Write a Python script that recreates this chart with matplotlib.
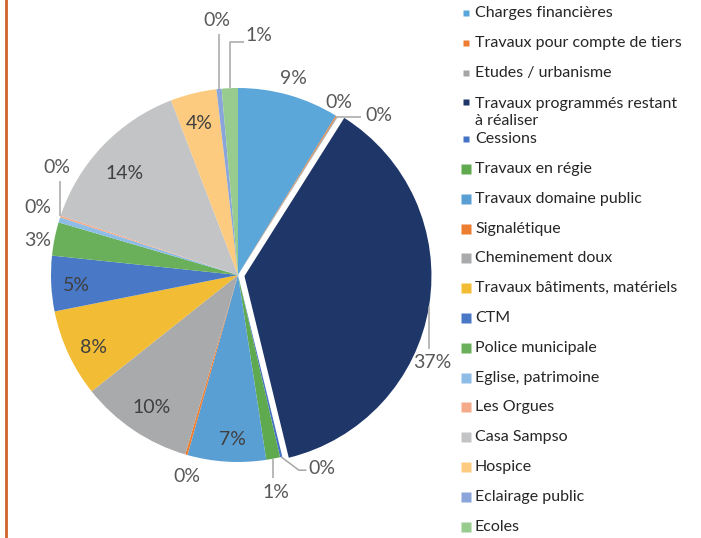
import matplotlib

matplotlib.use("Agg")

import numpy as np
import matplotlib.pyplot as plt
from matplotlib.lines import Line2D

plt.rcParams["font.family"] = ["Lato", "DejaVu Sans"]

categories = [
    "Charges financières",
    "Travaux pour compte de tiers",
    "Etudes / urbanisme",
    "Travaux programmés restant\nà réaliser",
    "Cessions",
    "Travaux en régie",
    "Travaux domaine public",
    "Signalétique",
    "Cheminement doux",
    "Travaux bâtiments, matériels",
    "CTM",
    "Police municipale",
    "Eglise, patrimoine",
    "Les Orgues",
    "Casa Sampso",
    "Hospice",
    "Eclairage public",
    "Ecoles",
]
values = [8.8, 0.1, 0.1, 37.4, 0.2, 1.2, 6.8, 0.2, 9.8, 7.6, 4.8, 2.9,
          0.45, 0.15, 14.1, 4.0, 0.45, 1.4]
colors = [
    "#5BA7DA", "#ED7D31", "#A5A5A5", "#1F3768", "#4472C4", "#5FA94F",
    "#5A9FD3", "#ED7D31", "#A9AAAB", "#F2BC35", "#4878C6", "#6AB05A",
    "#8DBDE6", "#F4A988", "#C3C4C5", "#FDCB7F", "#8AA5DA", "#98CB8E",
]

# label layout per slice: distance from centre, clockwise nudge (deg), leader style
label_dist = [1.09, 1.07, 1.14, 1.14, 1.125, 1.18, 0.88, 1.11, 0.845, 0.865,
              0.868, 1.09, 1.13, 1.126, 0.814, 0.838, 1.368, 1.288]
label_nudge = [0, -1.4, 9.4, 15, -10, 1, -1.5, -1.7, -1, -1.6,
               -0.9, -1.3, 1.6, 12.6, -1.9, -0.5, 1.1, 7.6]
leaders = [None, None, "h", "v", "dh", "v", None, None, None, None,
           None, None, None, "v", None, None, "v", "vh"]
small_marker = [True] * 5 + [False] * 13

W, H = 701, 538
cx, cy, rpx = 238, 275, 187
lim = 1.45

fig = plt.figure(figsize=(W / 100, H / 100), dpi=100)
fig.patch.set_facecolor("white")
half = lim * rpx
ax = fig.add_axes([(cx - half) / W, (H - cy - half) / H, 2 * half / W, 2 * half / H])

explode = [0.035 if i == 3 else 0 for i in range(len(values))]
wedges, _ = ax.pie(
    values,
    colors=colors,
    startangle=90,
    counterclock=False,
    explode=explode,
    wedgeprops={"linewidth": 0},
)
ax.set_xlim(-lim, lim)
ax.set_ylim(-lim, lim)
ax.axis("off")

total = sum(values)
line_color = "#A6A6A6"
for i, w in enumerate(wedges):
    mid = np.deg2rad((w.theta1 + w.theta2) / 2)
    px = w.center[0] + w.r * np.cos(mid)
    py = w.center[1] + w.r * np.sin(mid)
    ang = mid - np.deg2rad(label_nudge[i])
    tx = label_dist[i] * np.cos(ang)
    ty = label_dist[i] * np.sin(ang)
    inside = label_dist[i] < 1
    ax.text(tx, ty, f"{values[i] / total * 100:.0f}%", ha="center", va="center",
            fontsize=14, color="#404040" if inside else "#595959")

    style = leaders[i]
    if style == "v":
        sgn = 1 if py > ty else -1
        xs, ys = [px, px], [py, ty + sgn * 0.075]
    elif style == "h":
        xs, ys = [px, tx - 0.095], [py, py]
    elif style == "vh":
        xs, ys = [px, px, tx - 0.08], [py, ty - 0.035, ty - 0.035]
    elif style == "dh":
        xs, ys = [px, tx - 0.12], [py, ty - 0.011]
        xs.append(tx - 0.08)
        ys.append(ty - 0.011)
    else:
        continue
    ax.plot(xs, ys, color=line_color, lw=1.1, solid_capstyle="butt")

# legend drawn row by row
lax = fig.add_axes([0, 0, 1, 1])
lax.set_xlim(0, W)
lax.set_ylim(H, 0)
lax.axis("off")
y = 13
for i, name in enumerate(categories):
    ms = 4.5 if small_marker[i] else 7.5
    lax.plot([466], [y], marker="s", ms=ms, color=colors[i], mec="none")
    n_lines = name.count("\n") + 1
    lax.text(475, y + (n_lines - 1) * 10, name, ha="left", va="center",
             fontsize=11.5, color="#262626", linespacing=1.25)
    y += 29.8
    if n_lines > 1:
        y += 7

fig.add_artist(Line2D([6 / W, 6 / W], [0, 1], transform=fig.transFigure,
                      color="#D0622A", lw=2))

fig.savefig("out.png", dpi=100, facecolor=fig.get_facecolor())
